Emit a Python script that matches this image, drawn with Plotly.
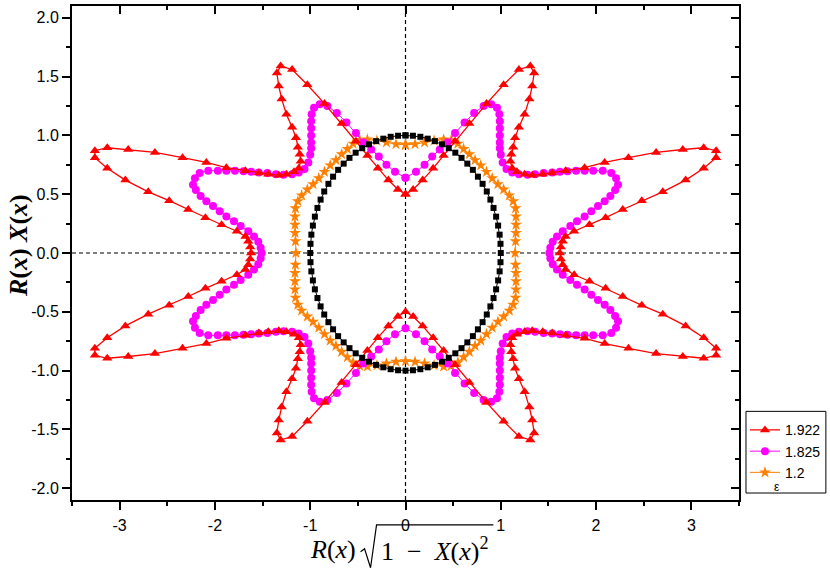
import plotly.graph_objects as go

# ---- data: first-quadrant points of each closed curve (from x=0 axis to y=0 axis) ----
# the curves are symmetric about both axes; the other quadrants are the mirror images
black_qx = [0.00, 0.078, 0.156, 0.233, 0.309, 0.383, 0.454, 0.523, 0.588, 0.649, 0.707,
            0.760, 0.809, 0.853, 0.891, 0.924, 0.951, 0.972, 0.988, 0.997, 1.00]
black_qy = [1.00, 0.997, 0.988, 0.972, 0.951, 0.924, 0.891, 0.853, 0.809, 0.760, 0.707,
            0.649, 0.588, 0.523, 0.454, 0.383, 0.309, 0.233, 0.156, 0.078, 0.00]

orange_qx = [0.00, 0.10, 0.20, 0.30, 0.40, 0.48, 0.55, 0.61, 0.67, 0.73, 0.79, 0.85,
             0.91, 0.97, 1.03, 1.09, 1.13, 1.155, 1.16, 1.16, 1.16, 1.155, 1.15]
orange_qy = [0.92, 0.925, 0.94, 0.955, 0.965, 0.96, 0.93, 0.885, 0.84, 0.79, 0.745, 0.69,
             0.635, 0.585, 0.54, 0.49, 0.44, 0.38, 0.31, 0.24, 0.17, 0.10, 0.00]

magenta_qx = [0.00, 0.11, 0.20, 0.28, 0.36, 0.44, 0.52, 0.62, 0.72, 0.82, 0.90, 0.96,
              0.985, 0.99, 0.99, 0.99, 0.99, 0.99, 1.00, 1.02, 1.06, 1.12, 1.19, 1.28,
              1.36, 1.45, 1.54, 1.62, 1.70, 1.79, 1.88, 1.97, 2.07, 2.16, 2.21, 2.23,
              2.20, 2.15, 2.09, 2.02, 1.95, 1.88, 1.80, 1.73, 1.65, 1.59, 1.545, 1.52, 1.51]
magenta_qy = [0.64, 0.69, 0.75, 0.82, 0.88, 0.94, 1.02, 1.11, 1.19, 1.25, 1.265, 1.235,
              1.18, 1.12, 1.06, 1.00, 0.94, 0.89, 0.835, 0.77, 0.715, 0.685, 0.67, 0.665,
              0.67, 0.68, 0.685, 0.69, 0.695, 0.70, 0.70, 0.70, 0.70, 0.68, 0.635, 0.58,
              0.535, 0.485, 0.44, 0.40, 0.355, 0.31, 0.27, 0.23, 0.185, 0.14, 0.095, 0.045, 0.00]

red_qx = [0.00, 0.08, 0.18, 0.29, 0.40, 0.52, 0.67, 0.85, 1.03, 1.19, 1.31, 1.35, 1.33,
          1.30, 1.25, 1.19, 1.15, 1.13, 1.11, 1.10, 1.12, 1.17, 1.25, 1.33, 1.44, 1.54,
          1.68, 1.88, 2.09, 2.34, 2.63, 2.91, 3.13, 3.26, 3.26, 3.13, 2.94, 2.70, 2.48,
          2.28, 2.10, 1.93, 1.77, 1.68, 1.65, 1.63, 1.62]
red_qy = [0.50, 0.54, 0.62, 0.72, 0.83, 0.95, 1.10, 1.27, 1.43, 1.56, 1.59, 1.53, 1.42,
          1.31, 1.18, 1.07, 0.98, 0.90, 0.84, 0.78, 0.72, 0.69, 0.67, 0.66, 0.67, 0.68,
          0.70, 0.725, 0.77, 0.81, 0.855, 0.88, 0.895, 0.87, 0.81, 0.72, 0.62, 0.52, 0.445,
          0.37, 0.30, 0.24, 0.185, 0.14, 0.10, 0.05, 0.00]

series_names = ["1.922", "1.825", "1.2"]
x_tick_vals = [-3, -2, -1, 0, 1, 2, 3]
x_tick_text = ["-3", "-2", "-1", "0", "1", "2", "3"]
y_tick_vals = [-2.0, -1.5, -1.0, -0.5, 0.0, 0.5, 1.0, 1.5, 2.0]
y_tick_text = ["-2.0", "-1.5", "-1.0", "-0.5", "0.0", "0.5", "1.0", "1.5", "2.0"]


def closed_curve(qx, qy):
    q1 = list(zip(qx, qy))
    q4 = [(x, -y) for x, y in reversed(q1)][1:]
    q3 = [(-x, -y) for x, y in q1][1:]
    q2 = [(-x, y) for x, y in reversed(q1)][1:]
    pts = q1 + q4 + q3 + q2
    return [p[0] for p in pts], [p[1] for p in pts]


# plot area in pixels (for placing decorations in paper coordinates)
L, R_, T, B = 72, 740, 4, 500


def px(xp):
    return (xp - L) / (R_ - L)


def py(yp):
    return (B - yp) / (B - T)


fig = go.Figure()

ox, oy = closed_curve(orange_qx, orange_qy)
mx, my = closed_curve(magenta_qx, magenta_qy)
rx, ry = closed_curve(red_qx, red_qy)
bx, by = closed_curve(black_qx, black_qy)

fig.add_trace(go.Scatter(x=ox, y=oy, mode="lines+markers", name=series_names[2], legendrank=3,
                         line=dict(color="#FF8000", width=1),
                         marker=dict(symbol="star", size=9, color="#FF8000")))
fig.add_trace(go.Scatter(x=mx, y=my, mode="lines+markers", name=series_names[1], legendrank=2,
                         line=dict(color="#FF00FF", width=1),
                         marker=dict(symbol="circle", size=8, color="#FF00FF")))
fig.add_trace(go.Scatter(x=rx, y=ry, mode="lines+markers", name=series_names[0], legendrank=1,
                         line=dict(color="#FF0000", width=1.3),
                         marker=dict(symbol="triangle-up", size=9, color="#FF0000")))
fig.add_trace(go.Scatter(x=bx, y=by, mode="lines+markers", showlegend=False,
                         line=dict(color="black", width=1),
                         marker=dict(symbol="square", size=6, color="black")))
# helper trace for the mirrored (inside) top/right tick axes
fig.add_trace(go.Scatter(x=[None], y=[None], xaxis="x2", yaxis="y2", showlegend=False,
                         hoverinfo="skip"))

tickfont = dict(family="Liberation Sans, Arial, sans-serif", size=16, color="black")
common = dict(showgrid=False, zeroline=False, linecolor="black", linewidth=2,
              tickcolor="black", tickwidth=1.5, ticklen=8)
title_font = dict(family="Liberation Serif, serif", size=26, color="black")
title_y = py(550)

fig.update_layout(
    width=830, height=573,
    margin=dict(l=L, r=830 - R_, t=T, b=573 - B),
    plot_bgcolor="white", paper_bgcolor="white",
    xaxis=dict(range=[-3.5, 3.5], tickmode="array", tickvals=x_tick_vals, ticktext=x_tick_text,
               ticks="outside", showline=True, mirror=True, tickfont=tickfont,
               ticklabelstandoff=2,
               minor=dict(ticks="outside", tickmode="linear", tick0=0, dtick=0.5,
                          ticklen=4, tickwidth=1.5, tickcolor="black"),
               **common),
    yaxis=dict(range=[-2.1, 2.1], tickmode="array", tickvals=y_tick_vals, ticktext=y_tick_text,
               ticks="outside", showline=True, mirror=True, tickfont=tickfont,
               minor=dict(ticks="outside", tickmode="linear", tick0=0, dtick=0.25,
                          ticklen=4, tickwidth=1.5, tickcolor="black"),
               **common),
    xaxis2=dict(range=[-3.5, 3.5], overlaying="x", side="top", anchor="y2",
                tickmode="array", tickvals=x_tick_vals, showticklabels=False, ticks="inside",
                showline=False,
                minor=dict(ticks="inside", tickmode="linear", tick0=0, dtick=0.5,
                           ticklen=4, tickwidth=1.5, tickcolor="black"),
                showgrid=False, zeroline=False, tickcolor="black", tickwidth=1.5, ticklen=8),
    yaxis2=dict(range=[-2.1, 2.1], overlaying="y", side="right", anchor="x2",
                tickmode="array", tickvals=y_tick_vals, showticklabels=False, ticks="inside",
                showline=False,
                minor=dict(ticks="inside", tickmode="linear", tick0=0, dtick=0.25,
                           ticklen=4, tickwidth=1.5, tickcolor="black"),
                showgrid=False, zeroline=False, tickcolor="black", tickwidth=1.5, ticklen=8),
    legend=dict(x=px(746), y=py(414), xanchor="left", yanchor="top",
                bgcolor="rgba(0,0,0,0)", borderwidth=0, tracegroupgap=0,
                font=dict(family="Liberation Sans, Arial, sans-serif", size=14, color="black")),
    shapes=[
        dict(type="line", xref="x", yref="paper", x0=0, x1=0, y0=0, y1=1,
             line=dict(color="black", width=1.2, dash="4px,3px"), layer="below"),
        dict(type="line", xref="paper", yref="y", x0=0, x1=1, y0=0, y1=0,
             line=dict(color="black", width=1.2, dash="4px,3px"), layer="below"),
        # legend frame
        dict(type="rect", xref="paper", yref="paper", x0=px(747), x1=px(827),
             y0=py(493), y1=py(411),
             line=dict(color="black", width=1), fillcolor="rgba(0,0,0,0)"),
        # radical sign with its vinculum for the x-axis title
        dict(type="path", xref="paper", yref="paper",
             path=(f"M {px(361)},{py(552)} L {px(365)},{py(549)} L {px(371)},{py(568)} "
                   f"L {px(377)},{py(525)} L {px(494)},{py(525)}"),
             line=dict(color="black", width=1.2)),
    ],
    annotations=[
        dict(text="ε", x=px(778), y=py(487), xref="paper", yref="paper", showarrow=False,
             xanchor="center", yanchor="middle",
             font=dict(family="Liberation Sans, Arial, sans-serif", size=12, color="black")),
        dict(text="<i>R</i>(<i>x</i>)", x=px(358), y=title_y, xref="paper", yref="paper",
             showarrow=False, xanchor="right", yanchor="middle", font=title_font),
        dict(text="1\u2002−\u2002<i>X</i>(<i>x</i>)<sup>2</sup>", x=px(379), y=title_y,
             xref="paper", yref="paper", showarrow=False, xanchor="left", yanchor="middle",
             font=title_font),
        dict(text="<b><i>R</i>(<i>x</i>) <i>X</i>(<i>x</i>)</b>", textangle=-90,
             x=px(18), y=py(245), xref="paper", yref="paper", showarrow=False,
             xanchor="center", yanchor="middle",
             font=dict(family="Liberation Serif, serif", size=26, color="black")),
    ],
)

fig.write_html("out.html", config={"displayModeBar": False},
               post_script="document.body.style.margin='0px';")
